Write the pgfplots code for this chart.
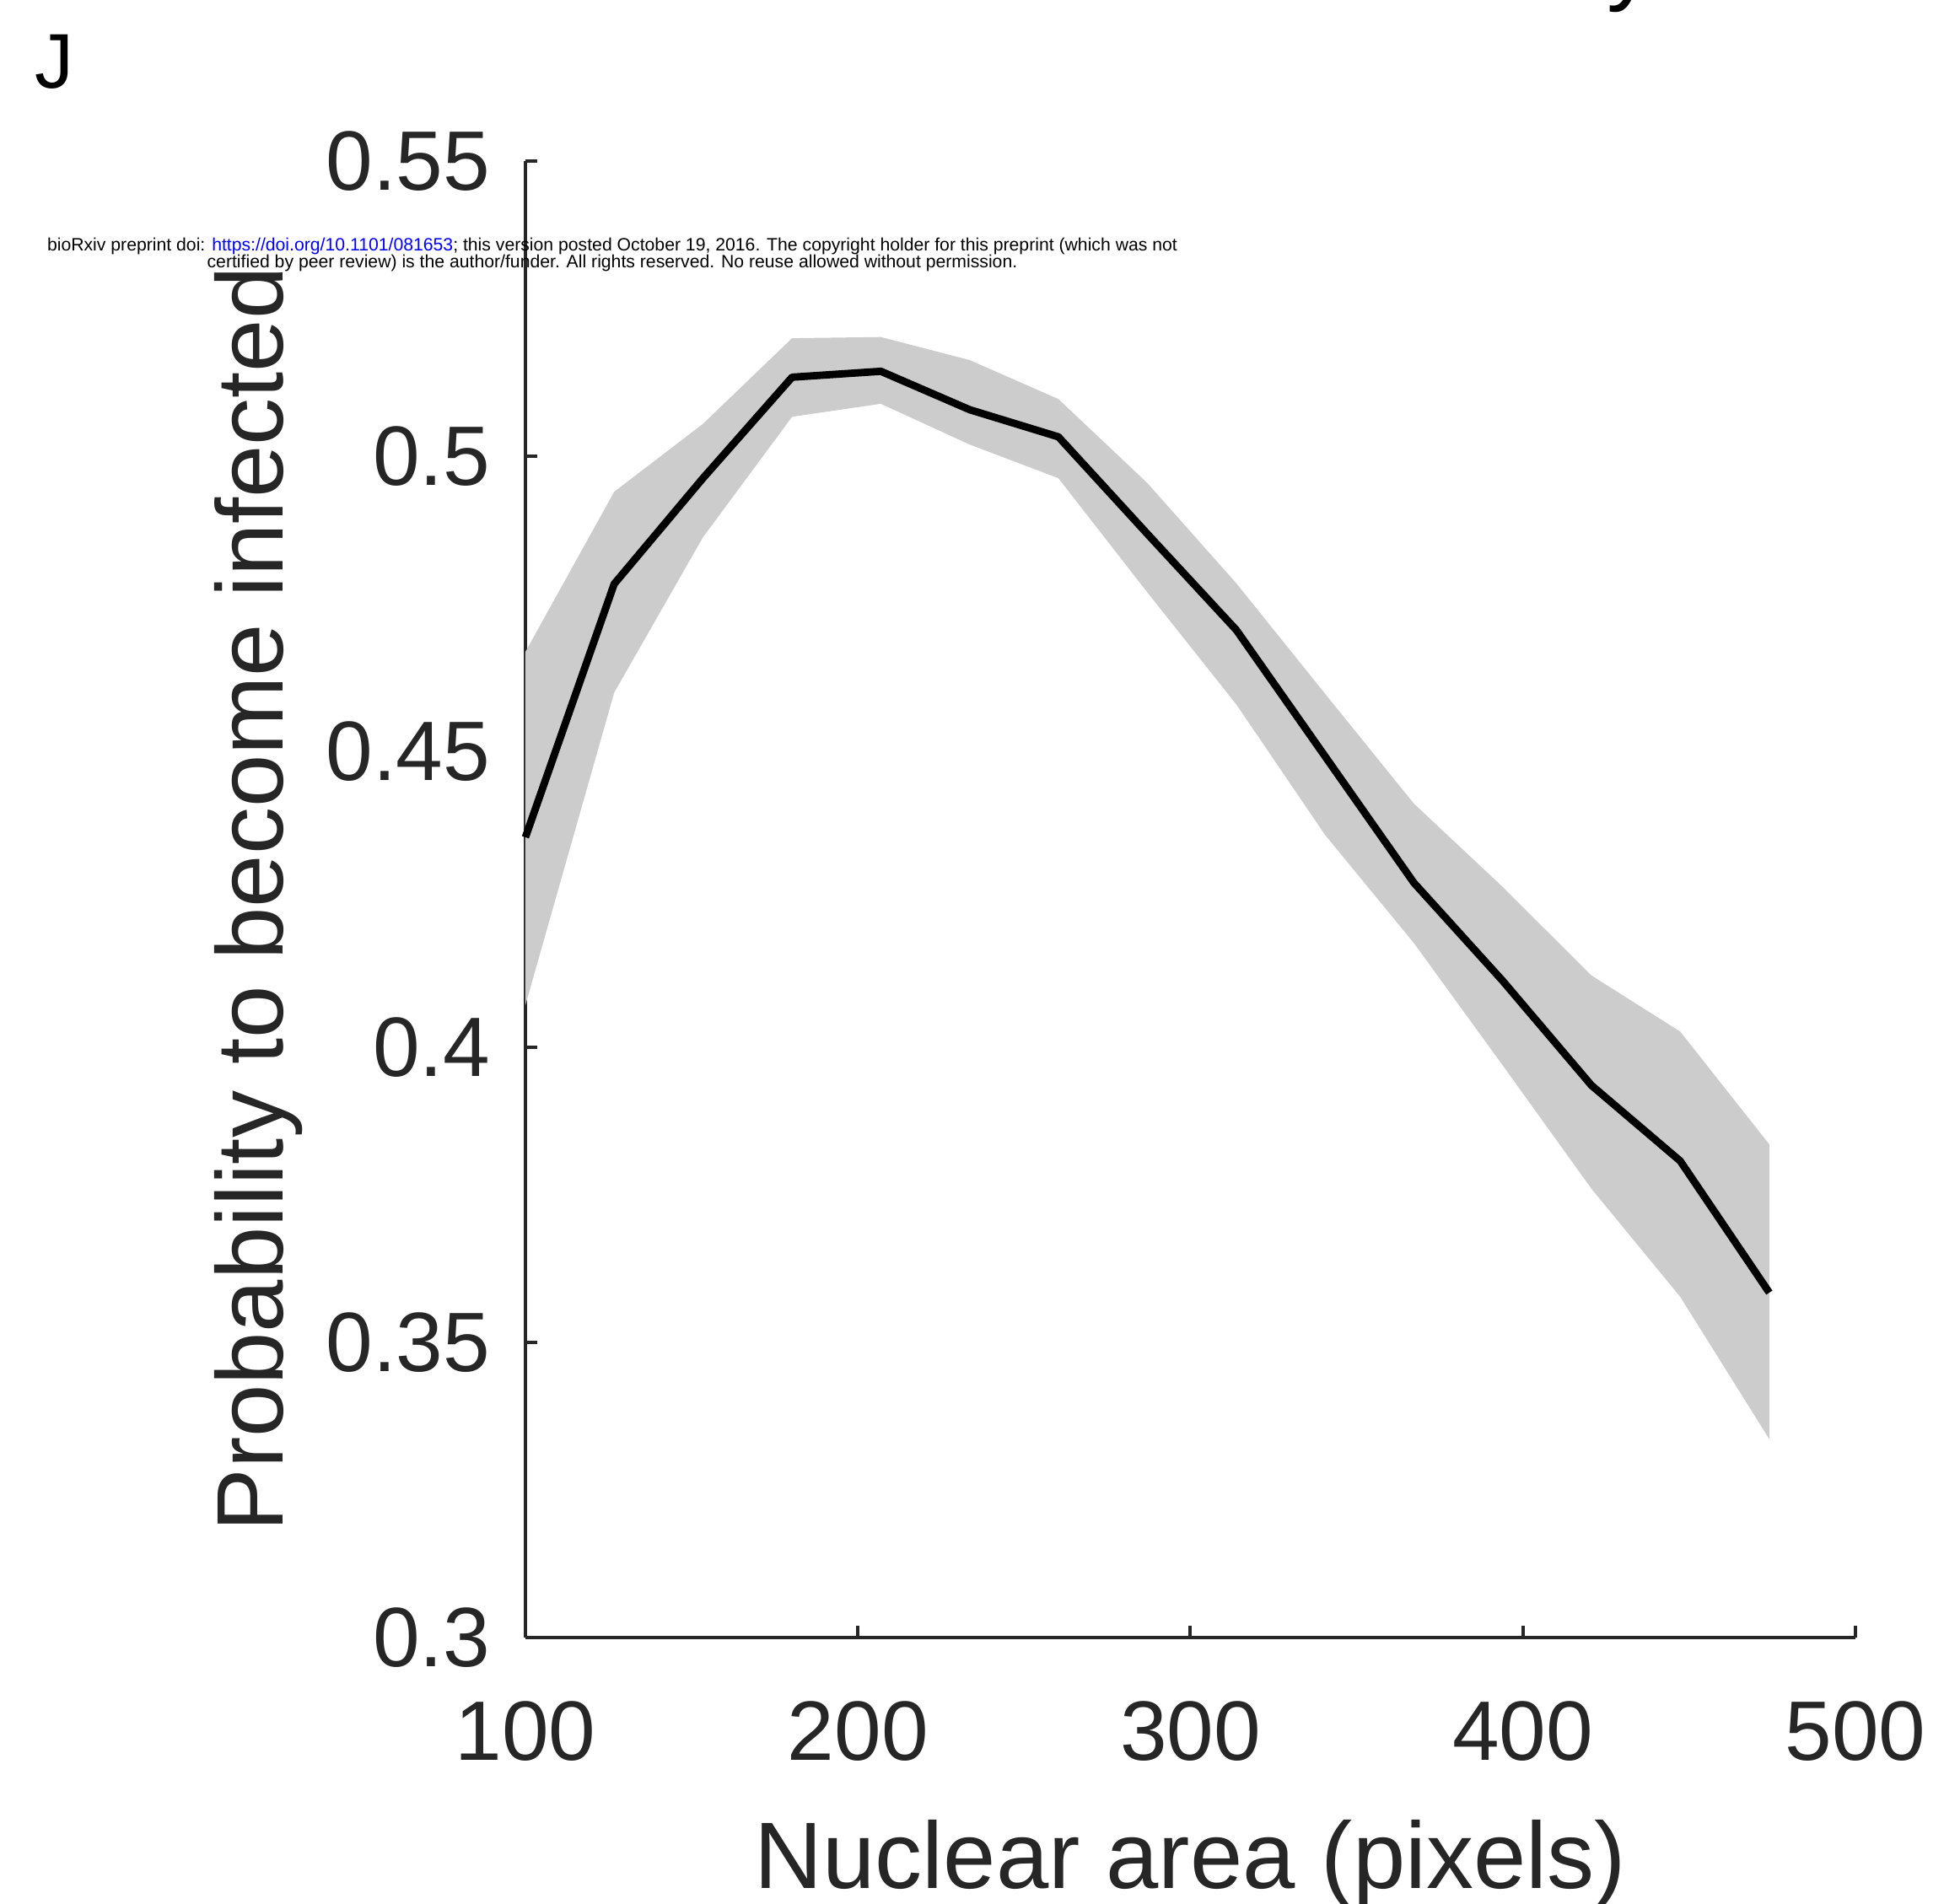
\documentclass[border=0pt]{standalone}
\usepackage{pgfplots}
\pgfplotsset{compat=1.18}
\usepackage{pgfplotstable}
\usepackage{fontspec}
\setmainfont{Liberation Sans}
\definecolor{axgray}{HTML}{262626}
\definecolor{bandgray}{HTML}{CCCCCC}
\definecolor{linkblue}{HTML}{0000FF}
\pgfplotstableread{
x      m       up      lo
100.0  0.4355  0.4669  0.4071
126.7  0.4784  0.4940  0.4600
153.4  0.4963  0.5055  0.4863
180.2  0.5134  0.5200  0.5067
206.9  0.5144  0.5202  0.5089
233.6  0.5079  0.5163  0.5020
260.3  0.5033  0.5097  0.4963
287.0  0.4869  0.4955  0.4770
313.8  0.4706  0.4785  0.4580
340.5  0.4492  0.4598  0.4359
367.2  0.4278  0.4412  0.4176
393.9  0.4112  0.4271  0.3969
420.6  0.3935  0.4121  0.3760
447.3  0.3807  0.4026  0.3577
474.1  0.3584  0.3835  0.3336
}\data
\begin{document}
\begin{tikzpicture}
\useasboundingbox (-155.75pt,-79pt) rectangle (420.5pt,485.5pt);
\begin{axis}[
  at={(0pt,0pt)}, anchor=south west,
  scale only axis, width=394.25pt, height=437.75pt,
  xmin=100, xmax=500, ymin=0.3, ymax=0.55,
  axis x line*=bottom, axis y line*=left,
  axis line style={axgray, line width=1pt},
  every tick/.style={axgray, line width=1pt},
  tick align=inside, major tick length=3.5pt,
  xtick={100,200,300,400,500}, xticklabels={100,200,300,400,500},
  ytick={0.3,0.35,0.4,0.45,0.5,0.55}, yticklabels={0.3,0.35,0.4,0.45,0.5,0.55},
  tick label style={font=\fontsize{25}{30}\selectfont, text=axgray, inner sep=0pt},
  xticklabel style={anchor=north, yshift=-18.75pt},
  yticklabel style={anchor=east, xshift=-10.25pt},
  xlabel={Nuclear area (pixels)}, ylabel={Probability to become infected},
  every axis x label/.style={at={(axis description cs:0.5,0)}, anchor=north, yshift=-54pt,
     font=\fontsize{28}{34}\selectfont, text=axgray, inner sep=0pt},
  every axis y label/.style={at={(axis description cs:-0.1826,0.5)}, anchor=base, rotate=90,
     font=\fontsize{28}{34}\selectfont, text=axgray, inner sep=0pt},
  clip=false,
]
\addplot[fill=bandgray, draw=none] coordinates {
(100.0,0.4669) (126.7,0.4940) (153.4,0.5055) (180.2,0.5200) (206.9,0.5202)
(233.6,0.5163) (260.3,0.5097) (287.0,0.4955) (313.8,0.4785) (340.5,0.4598)
(367.2,0.4412) (393.9,0.4271) (420.6,0.4121) (447.3,0.4026) (474.1,0.3835)
(474.1,0.3336) (447.3,0.3577) (420.6,0.3760) (393.9,0.3969) (367.2,0.4176)
(340.5,0.4359) (313.8,0.4580) (287.0,0.4770) (260.3,0.4963) (233.6,0.5020)
(206.9,0.5089) (180.2,0.5067) (153.4,0.4863) (126.7,0.4600) (100.0,0.4071)
} -- cycle;
\addplot[black, line width=2.2pt, line join=round] table[x=x, y=m] {\data};
\end{axis}
\node[anchor=base west, inner sep=0pt, font=\fontsize{23}{28}\selectfont] at (-145.5pt,459.25pt) {J};
\node[anchor=base, inner sep=0pt, font=\fontsize{5.3}{6}\selectfont] at (25.75pt,411.2pt) {bioRxiv preprint doi: \textcolor{linkblue}{https://doi.org/10.1101/081653}; this version posted October 19, 2016. The copyright holder for this preprint (which was not};
\node[anchor=base, inner sep=0pt, font=\fontsize{5.3}{6}\selectfont] at (25.75pt,406.2pt) {certified by peer review) is the author/funder. All rights reserved. No reuse allowed without permission.};
\node[anchor=base west, inner sep=0pt, font=\fontsize{28}{34}\selectfont] at (320.5pt,487.6pt) {y};
\end{tikzpicture}
\end{document}
